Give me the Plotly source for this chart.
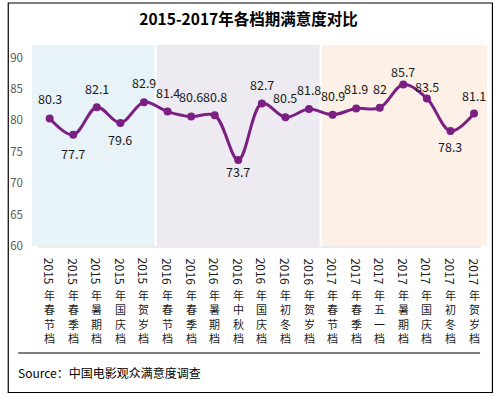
import plotly.graph_objects as go

# ---- data ----
categories = [
    "2015年春节档", "2015年春季档", "2015年暑期档", "2015年国庆档", "2015年贺岁档",
    "2016年春节档", "2016年春季档", "2016年暑期档", "2016年中秋档", "2016年国庆档", "2016年初冬档", "2016年贺岁档",
    "2017年春节档", "2017年春季档", "2017年五一档", "2017年暑期档", "2017年国庆档", "2017年初冬档", "2017年贺岁档",
]
satisfaction = [80.3, 77.7, 82.1, 79.6, 82.9,
                81.4, 80.6, 80.8, 73.7, 82.7, 80.5, 81.8,
                80.9, 81.9, 82, 85.7, 83.5, 78.3, 81.1]
y_ticks = [60, 65, 70, 75, 80, 85, 90]
title_text = "2015-2017年各档期满意度对比"
source_text = "Source：中国电影观众满意度调查"

# ---- style ----
label_shift = [20, -19, 19, -17, 20, 19, 20, 19, -12, 19, 20, 20, 19, 20, 19, 13, 12, -15, 18]
band_colors = {"2015": "#E8F3F8", "2016": "#EDEAF2", "2017": "#FDF0E7"}
line_color = "#7B1F82"
FONT = "Noto Sans CJK SC"

W, H = 497, 396
ML, MR, MT, MB = 27, 10, 45, 150
plot_h = H - MT - MB
plot_w = W - ML - MR
x_lo, x_hi = -0.75, 18.55


def py(p):  # pixel y -> paper y
    return (H - MB - p) / plot_h


def px(p):  # pixel x -> paper x
    return (p - ML) / plot_w


fig = go.Figure()
fig.add_trace(go.Scatter(
    x=list(range(len(categories))), y=satisfaction, mode="lines+markers",
    line=dict(color=line_color, width=3, shape="spline", smoothing=1),
    marker=dict(color=line_color, size=8), hoverinfo="skip", showlegend=False,
))

shapes = []
# background bands by year group
years = [c[:4] for c in categories]
groups = []
for i, yv in enumerate(years):
    if not groups or groups[-1][0] != yv:
        groups.append([yv, i, i])
    else:
        groups[-1][2] = i
for gi, (yv, a, b) in enumerate(groups):
    x0 = x_lo if gi == 0 else a - 0.46
    x1 = x_hi if gi == len(groups) - 1 else b + 0.45
    shapes.append(dict(type="rect", xref="x", yref="paper", x0=x0, x1=x1, y0=0, y1=1,
                       fillcolor=band_colors[yv], line=dict(width=0), layer="below"))
# x axis line
shapes.append(dict(type="line", xref="x", yref="paper", x0=-0.5, x1=18.3, y0=py(247), y1=py(247),
                   line=dict(color="#D9D9D9", width=1)))
# divider line above source
shapes.append(dict(type="line", xref="paper", yref="paper", x0=px(13), x1=px(480), y0=py(353), y1=py(353),
                   line=dict(color="#000000", width=1.2)))
# outer border
shapes.append(dict(type="rect", xref="paper", yref="paper", x0=px(3), x1=px(492.5), y0=py(392.5), y1=py(3),
                   line=dict(color="#000000", width=1.2), fillcolor="rgba(0,0,0,0)"))

annotations = []
# data labels
for i, v in enumerate(satisfaction):
    annotations.append(dict(x=i, y=v, xref="x", yref="y", text=str(v), showarrow=False,
                            yshift=label_shift[i], xanchor="center", yanchor="middle",
                            font=dict(family=FONT, size=12.5, color="#1a1a1a")))
# vertical category labels: rotated year + stacked characters
for i, c in enumerate(categories):
    annotations.append(dict(x=i, y=py(271.5), xref="x", yref="paper", text=c[:4], textangle=90,
                            showarrow=False, xanchor="center", yanchor="middle",
                            font=dict(family=FONT, size=12, color="#1a1a1a")))
    annotations.append(dict(x=i, y=py(285), xref="x", yref="paper", text="<br>".join(c[4:]),
                            showarrow=False, xanchor="center", yanchor="top",
                            font=dict(family=FONT, size=11, color="#1a1a1a")))
# source
annotations.append(dict(x=px(10.5), y=py(372), xref="paper", yref="paper", text=source_text,
                        showarrow=False, xanchor="left", yanchor="middle",
                        font=dict(family=FONT, size=12, color="#000000")))

fig.update_layout(
    width=W, height=H, autosize=False,
    margin=dict(l=ML, r=MR, t=MT, b=MB),
    paper_bgcolor="white", plot_bgcolor="white",
    title=dict(text="<b>" + title_text + "</b>", x=0.5, xref="container", xanchor="center",
               y=1 - 20 / H, yref="container", yanchor="middle",
               font=dict(family=FONT, size=15.5, color="#000000")),
    xaxis=dict(range=[x_lo, x_hi], showgrid=False, zeroline=False, showticklabels=False,
               ticks="", showline=False, fixedrange=True),
    yaxis=dict(range=[60, 92], tickvals=y_ticks, showgrid=False, zeroline=False, showline=False,
               ticks="", ticklabelstandoff=8,
               tickfont=dict(family=FONT, size=11.5, color="#595959"), fixedrange=True),
    shapes=shapes, annotations=annotations,
)
fig.write_html("out.html", config={"displayModeBar": False},
               post_script="document.body.style.margin='0';document.body.style.overflow='hidden';")
